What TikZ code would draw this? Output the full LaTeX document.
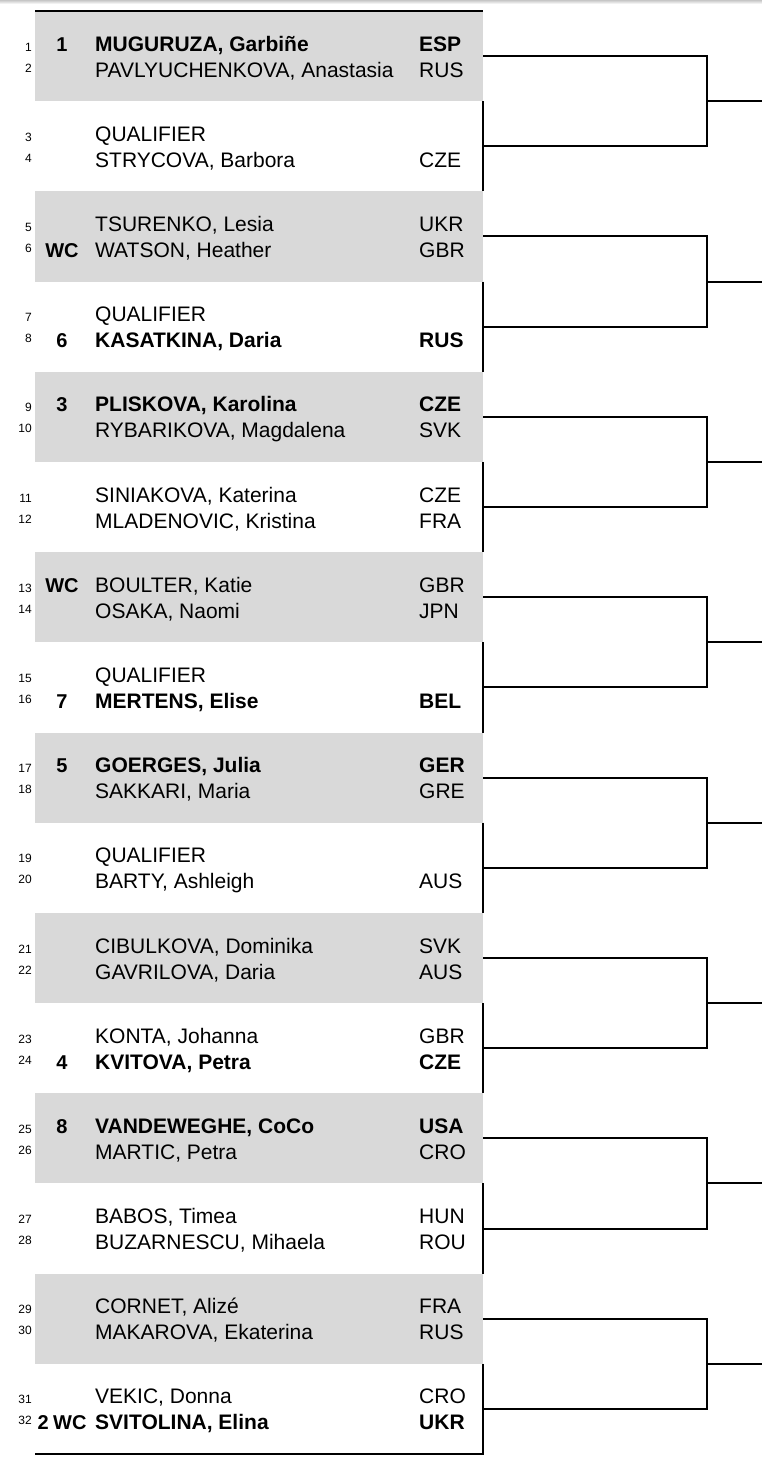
\documentclass[tikz,border=0pt]{standalone}
\usepackage{fontspec}
\setmainfont{Liberation Sans}
\definecolor{blockgray}{RGB}{217,217,217}
\tikzset{
  ptxt/.style={anchor=base west, inner sep=0pt, font=\fontsize{21}{24}\selectfont},
  pnum/.style={anchor=base east, inner sep=0pt, font=\fontsize{12}{14}\selectfont},
  pseed/.style={anchor=base, inner sep=0pt, font=\fontsize{20}{23}\selectfont\bfseries},
  pbold/.style={font=\fontsize{21}{24}\selectfont\bfseries},
  pplain/.style={},
  blockbox/.style={minimum width=448pt, minimum height=90.19pt, inner sep=0pt, outer sep=0pt, draw=none},
  rule/.style={line width=2pt, draw=black}
}
\newcommand\pair[9]{%
  \pgfmathsetmacro{\cy}{11+(#1-0.5)*90.19}%
  \pgfmathtruncatemacro{\ra}{2*#1-1}%
  \pgfmathtruncatemacro{\rb}{2*#1}%
  \node[pnum] (num\ra) at (32,{\cy-5}) {\ra};
  \node[pseed] (seed\ra) at (62,{\cy-5}) {#2};
  \node[ptxt,#5] (name\ra) at (95,{\cy-5}) {#3};
  \node[ptxt,#5] (ctry\ra) at (419,{\cy-5}) {#4};
  \node[pnum] (num\rb) at (32,{\cy+16}) {\rb};
  \node[pseed] (seed\rb) at (62,{\cy+21}) {#6};
  \node[ptxt,#9] (name\rb) at (95,{\cy+21}) {#7};
  \node[ptxt,#9] (ctry\rb) at (419,{\cy+21}) {#8};
}
\begin{document}
\begin{tikzpicture}[x=1pt,y=-1pt]
\useasboundingbox (0,0) rectangle (762,1458);
\fill[white] (0,0) rectangle (762,1458);
\shade[top color=gray!45, bottom color=white] (0,0) rectangle (762,4);
% blocks
\foreach \k in {1,...,16} {
  \pgfmathsetmacro{\cy}{11+(\k-0.5)*90.19}
  \pgfmathtruncatemacro{\odd}{mod(\k,2)}
  \ifnum\odd=1
    \node[blockbox,fill=blockgray] (blk\k) at (259,\cy) {};
  \else
    \node[blockbox] (blk\k) at (259,\cy) {};
  \fi
}
% frame lines
\draw[rule] (blk1.north west) -- (blk1.north east);
\foreach \i in {1,...,8} {
  \pgfmathtruncatemacro{\a}{2*\i-1}
  \pgfmathtruncatemacro{\b}{2*\i}
  \pgfmathsetmacro{\jy}{11+(2*\i-1)*90.19}
  \coordinate (join\i) at (707,\jy);
  \coordinate (out\i) at (764,\jy);
  \draw[rule] (blk\b.north east) -- (blk\b.south east);
  \draw[rule] (blk\a.east) -| (join\i) |- (blk\b.east);
  \draw[rule] (join\i) -- (out\i);
}
\draw[rule] (blk16.north east) -- (blk16.south east) -- (blk16.south west);
% players
\pair{1}{1}{MUGURUZA, Garbiñe}{ESP}{pbold}{}{PAVLYUCHENKOVA, Anastasia}{RUS}{pplain}
\pair{2}{}{QUALIFIER}{}{pplain}{}{STRYCOVA, Barbora}{CZE}{pplain}
\pair{3}{}{TSURENKO, Lesia}{UKR}{pplain}{WC}{WATSON, Heather}{GBR}{pplain}
\pair{4}{}{QUALIFIER}{}{pplain}{6}{KASATKINA, Daria}{RUS}{pbold}
\pair{5}{3}{PLISKOVA, Karolina}{CZE}{pbold}{}{RYBARIKOVA, Magdalena}{SVK}{pplain}
\pair{6}{}{SINIAKOVA, Katerina}{CZE}{pplain}{}{MLADENOVIC, Kristina}{FRA}{pplain}
\pair{7}{WC}{BOULTER, Katie}{GBR}{pplain}{}{OSAKA, Naomi}{JPN}{pplain}
\pair{8}{}{QUALIFIER}{}{pplain}{7}{MERTENS, Elise}{BEL}{pbold}
\pair{9}{5}{GOERGES, Julia}{GER}{pbold}{}{SAKKARI, Maria}{GRE}{pplain}
\pair{10}{}{QUALIFIER}{}{pplain}{}{BARTY, Ashleigh}{AUS}{pplain}
\pair{11}{}{CIBULKOVA, Dominika}{SVK}{pplain}{}{GAVRILOVA, Daria}{AUS}{pplain}
\pair{12}{}{KONTA, Johanna}{GBR}{pplain}{4}{KVITOVA, Petra}{CZE}{pbold}
\pair{13}{8}{VANDEWEGHE, CoCo}{USA}{pbold}{}{MARTIC, Petra}{CRO}{pplain}
\pair{14}{}{BABOS, Timea}{HUN}{pplain}{}{BUZARNESCU, Mihaela}{ROU}{pplain}
\pair{15}{}{CORNET, Alizé}{FRA}{pplain}{}{MAKAROVA, Ekaterina}{RUS}{pplain}
\pair{16}{}{VEKIC, Donna}{CRO}{pplain}{2\kern4.5pt WC}{SVITOLINA, Elina}{UKR}{pbold}
\end{tikzpicture}
\end{document}
